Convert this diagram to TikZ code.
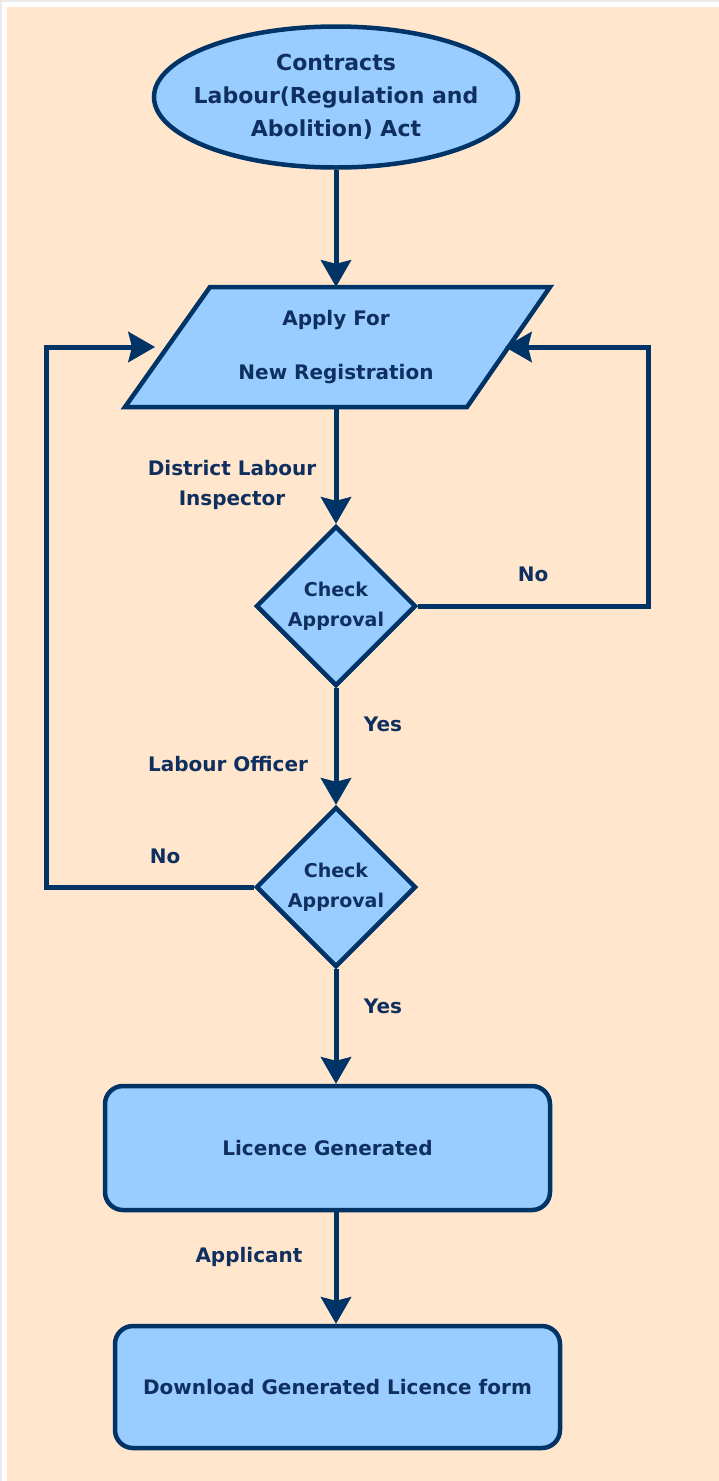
\documentclass[tikz,border=0pt]{standalone}
\usepackage{fontspec}
\setmainfont{DejaVu Sans}
\usetikzlibrary{shapes.geometric,arrows.meta}
\definecolor{peach}{HTML}{FFE6CC}
\definecolor{navy}{HTML}{003366}
\definecolor{skyfill}{HTML}{99CCFF}
\definecolor{txtc}{HTML}{0F2F5F}
\tikzset{
  x=1pt, y=-1pt,
  every node/.style={font=\fontsize{20}{30}\selectfont\bfseries, text=txtc},
  shp/.style={draw=navy, fill=skyfill, line width=4.5pt},
  startshape/.style={shp, ellipse, inner sep=0pt},
  dec/.style={shp, diamond, inner sep=0pt, minimum width=160pt, minimum height=160pt, align=center,
    font=\fontsize{19}{30}\selectfont\bfseries},
  boxr/.style={shp, rectangle, rounded corners=18pt, inner sep=0pt},
  lbl/.style={align=center, inner sep=0pt},
  arr/.style={draw=navy, line width=5pt, -{Stealth[length=27pt, width=31pt, inset=4pt, line width=1pt, fill=navy, color=navy]}},
}
\begin{document}
\begin{tikzpicture}
\useasboundingbox (0,0) rectangle (719,1481);
\fill[white] (0,0) rectangle (719,1481);
\fill[black!8] (0,0) rectangle (719,2);
\fill[black!8] (0,0) rectangle (2,1481);
\fill[peach] (7,7) rectangle (719,1481);

% start ellipse
\node[startshape, minimum width=364pt, minimum height=141pt] (start) at (336,97) {};
\node[lbl, font=\fontsize{22}{33}\selectfont\bfseries] (starttxt) at (start) {Contracts\\Labour(Regulation and\\Abolition) Act};

% parallelogram
\draw[shp] (210,287) -- (550,287) -- (467,407) -- (125,407) -- cycle;
\node[lbl, minimum width=340pt, minimum height=120pt] (apply) at (336,347) {Apply For\\[24pt]New Registration};
\coordinate (lin) at (155,347);
\coordinate (rin) at (505,347);

% decisions
\node[dec] (d1) at (336,606) {Check\\Approval};
\node[dec] (d2) at (336,887) {Check\\Approval};

% boxes
\node[boxr, minimum width=445pt, minimum height=124pt] (b1) at (327.5,1148) {Licence Generated};
\node[boxr, minimum width=445pt, minimum height=122pt] (b2) at (337.5,1387) {Download Generated Licence form};

% connectors
\draw[arr] (start.south) -- (apply.north);
\draw[arr] (apply.south) -- (d1.north);
\draw[arr] (d1.south) -- (d2.north);
\draw[arr] (d2.south) -- (d2.south |- b1.north);
\draw[arr] (b1.south -| d2) -- (b2.north -| d2);
\draw[arr] (d1.east) -- (648,606) |- (rin);
\draw[arr] (d2.west) -- (46,887) |- (lin);

% labels
\node[lbl] (l1) at (232,485) {District Labour\\Inspector};
\node[lbl] (l2) at (533,574) {No};
\node[lbl] (l3) at (383,724) {Yes};
\node[lbl] (l4) at (228,764) {Labour Officer};
\node[lbl] (l5) at (165,856) {No};
\node[lbl] (l6) at (383,1006) {Yes};
\node[lbl] (l7) at (249,1257) {Applicant};
\end{tikzpicture}
\end{document}
